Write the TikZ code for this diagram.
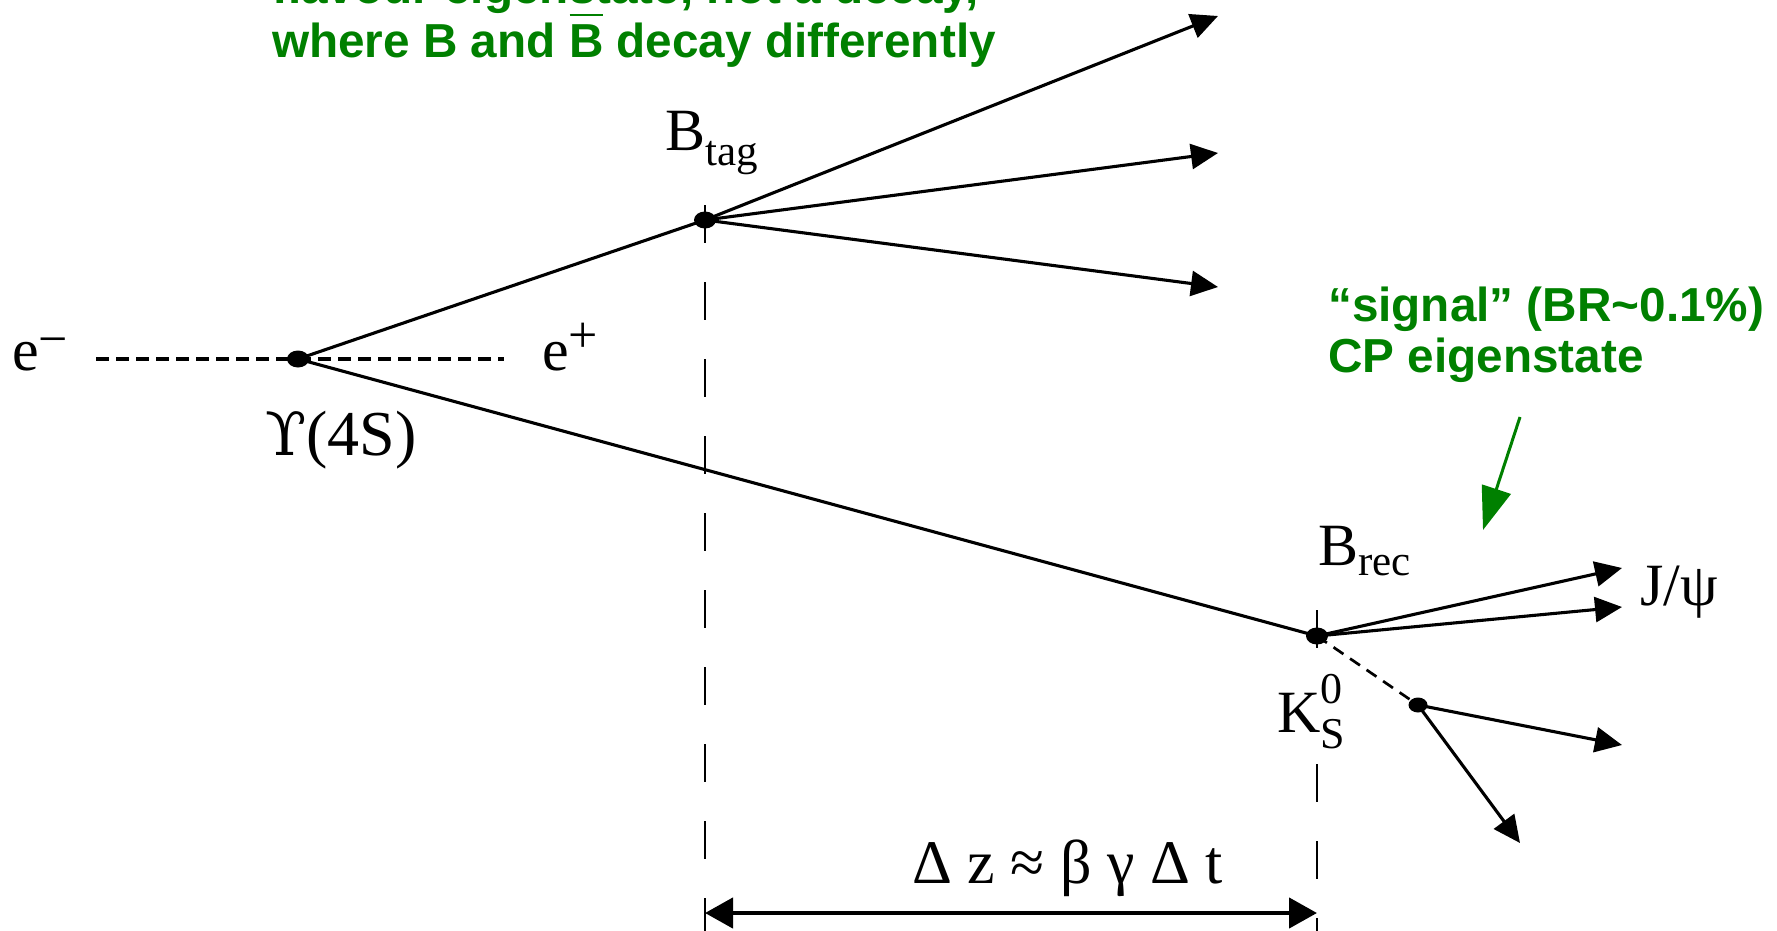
\documentclass[tikz,border=0pt]{standalone}
\usepackage{fontspec}
\setmainfont{Liberation Serif}
\newfontfamily\gsans{Liberation Sans}
\newfontfamily\dvserif{DejaVu Serif}
\usetikzlibrary{arrows.meta,shapes.geometric}
\definecolor{ggreen}{RGB}{0,128,0}
\newcommand\ovB{\makebox[0pt][l]{\hspace{0.01em}\rule[0.87em]{0.7em}{0.045em}}B}
\newcommand\supsz{\fontsize{52}{52}\selectfont}
\newcommand\subsz{\fontsize{43}{43}\selectfont}
\begin{document}
\begin{tikzpicture}[x=1pt,y=-1pt,
  lbl/.style={inner sep=0pt, anchor=base west, font=\fontsize{60}{70}\selectfont},
  track/.style={line width=3.1pt, line cap=round},
  tip/.style={track, -{Triangle[length=27pt,width=25pt]}},
  vdot/.style={ellipse, fill=black, minimum width=22pt, minimum height=17pt, inner sep=0pt},
  vdash/.style={line width=1.5pt, dash pattern=on 38pt off 39pt},
  beam/.style={line width=3.4pt, dash pattern=on 13pt off 7pt},
  ksdash/.style={line width=2.7pt, dash pattern=on 12pt off 8pt},
  note/.style={text=ggreen, font=\gsans\bfseries\fontsize{47.7}{51}\selectfont, inner sep=0pt, anchor=base west, align=left},
  garrow/.style={draw=ggreen, fill=ggreen, line width=3pt, -{Triangle[length=43pt,width=30pt]}},
  dzarrow/.style={line width=4.5pt, {Triangle[length=28pt,width=30pt]}-{Triangle[length=28pt,width=30pt]}}
]
\useasboundingbox (0,0) rectangle (1777,931);
\clip (0,0) rectangle (1777,931);

% coordinates
\coordinate (ups) at (298,359);
\coordinate (btag) at (705,220);
\coordinate (brec) at (1317,636);
\coordinate (ks) at (1418,705);
\coordinate (t1) at (1218,16);
\coordinate (t2) at (1218,153);
\coordinate (t3) at (1218,287);
\coordinate (j1) at (1622,568);
\coordinate (j2) at (1622,607);
\coordinate (p1) at (1622,745);
\coordinate (p2) at (1520,843);
\coordinate (em) at (96,359);
\coordinate (ep) at (504,359);
\coordinate (vt1) at (705,205);
\coordinate (vb1) at (705,931);
\coordinate (vt2) at (1317,610);
\coordinate (vb2) at (1317,931);
\coordinate (dzl) at (705,913);
\coordinate (dzr) at (1317,913);
\coordinate (gs) at (1520,417);
\coordinate (ge) at (1483,530);

% vertical dashed guides
\draw[vdash] (vt1) -- (vb1);
\draw[vdash] (vt2) -- (vb2);

% beams
\draw[beam] (em) -- (ups);
\draw[beam] (ups) -- (ep);

% tracks
\draw[track] (ups) -- (btag);
\draw[track] (ups) -- (brec);
\draw[tip] (btag) -- (t1);
\draw[tip] (btag) -- (t2);
\draw[tip] (btag) -- (t3);
\draw[tip] (brec) -- (j1);
\draw[tip] (brec) -- (j2);
\draw[ksdash] (brec) -- (ks);
\draw[tip] (ks) -- (p1);
\draw[tip] (ks) -- (p2);

% vertices
\node[vdot] (dups) at (ups) {};
\node[vdot] (dbtag) at (btag) {};
\node[vdot] (dbrec) at (brec) {};
\node[vdot, minimum width=19pt, minimum height=15pt] (dks) at (ks) {};

% labels
\node[lbl] (lem) at (12,370) {e\raisebox{14pt}{\supsz −}};
\node[lbl] (lep) at (542,370) {e\raisebox{18pt}{\supsz +}};
\node[lbl] (lups) at (265,455) {{\dvserif\fontsize{60}{70}\selectfont ϒ}\fontsize{64}{70}\selectfont(4S)};
\node[lbl] (lbtag) at (665,150) {B\raisebox{-15pt}{\subsz tag}};
\node[lbl] (lbrec) at (1318,565) {B\raisebox{-10pt}{\subsz rec}};
\node[lbl] (ljpsi) at (1640,605) {J/ψ};
\node[lbl, fill=white] (lks) at (1277,732) {K\rlap{\raisebox{29pt}{\fontsize{44}{44}\selectfont 0}}\raisebox{-16pt}{\fontsize{44}{44}\selectfont S}};
\node[lbl, font=\fontsize{62}{70}\selectfont] (ldz) at (912,883) {Δ z ≈ β γ Δ t};

% Delta z arrow
\draw[dzarrow] (dzl) -- (dzr);

% green annotations
\node[note] (n1) at (272,58) {flavour eigenstate, not a decay,\\where B and \ovB{} decay differently};
\node[note] (n2) at (1328,372) {“signal” (BR\textasciitilde0.1\%)\\CP eigenstate};
\draw[garrow] (gs) -- (ge);
\end{tikzpicture}
\end{document}
